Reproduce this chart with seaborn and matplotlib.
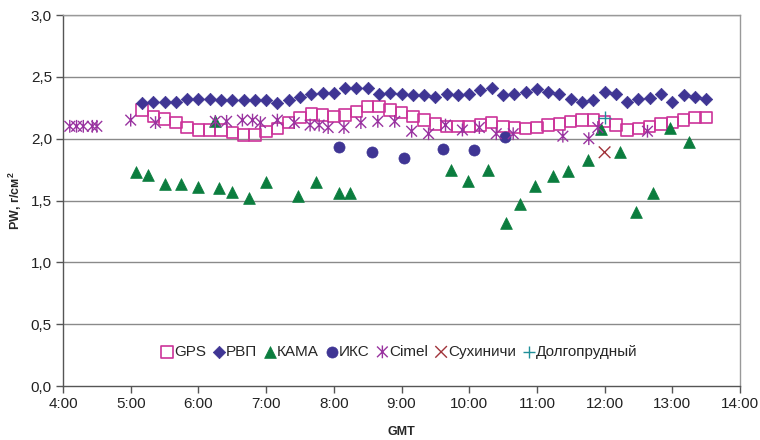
import numpy as np
import pandas as pd
import matplotlib
matplotlib.use("Agg")
import matplotlib.pyplot as plt
from matplotlib.path import Path
import seaborn as sns

# ---------------- data ----------------
gps_time = ["5:10", "5:20", "5:30", "5:40", "5:50", "6:00", "6:10", "6:20", "6:30", "6:40",
            "6:50", "7:00", "7:10", "7:20", "7:30", "7:40", "7:50", "8:00", "8:10", "8:20",
            "8:30", "8:40", "8:50", "9:00", "9:10", "9:20", "9:30", "9:40", "9:50", "10:00",
            "10:10", "10:20", "10:30", "10:40", "10:50", "11:00", "11:10", "11:20", "11:30", "11:40",
            "11:50", "12:00", "12:10", "12:20", "12:30", "12:40", "12:50", "13:00", "13:10", "13:20",
            "13:30"]
gps_pw = [2.23, 2.18, 2.16, 2.13, 2.09, 2.07, 2.07, 2.07, 2.05, 2.03,
          2.03, 2.06, 2.08, 2.13, 2.17, 2.20, 2.19, 2.18, 2.19, 2.22,
          2.26, 2.26, 2.23, 2.21, 2.18, 2.15, 2.12, 2.10, 2.10, 2.10,
          2.11, 2.13, 2.10, 2.09, 2.08, 2.09, 2.11, 2.12, 2.14, 2.15,
          2.15, 2.14, 2.11, 2.07, 2.08, 2.10, 2.12, 2.13, 2.15, 2.17,
          2.17]

rvp_time = gps_time
rvp_pw = [2.29, 2.30, 2.30, 2.30, 2.32, 2.32, 2.32, 2.31, 2.31, 2.31,
          2.31, 2.31, 2.29, 2.31, 2.34, 2.36, 2.37, 2.37, 2.41, 2.41,
          2.41, 2.36, 2.37, 2.36, 2.35, 2.35, 2.34, 2.36, 2.35, 2.36,
          2.39, 2.41, 2.35, 2.36, 2.38, 2.40, 2.38, 2.36, 2.32, 2.30,
          2.31, 2.38, 2.36, 2.30, 2.32, 2.33, 2.36, 2.30, 2.35, 2.34,
          2.32]

kama_time = ["5:05", "5:15", "5:30", "5:45", "6:00", "6:15", "6:18", "6:30", "6:45", "7:00",
             "7:28", "7:44", "8:05", "8:14", "9:44", "9:59", "10:17", "10:33", "10:45", "10:58",
             "11:14", "11:28", "11:45", "11:57", "12:14", "12:28", "12:43", "12:58", "13:15"]
kama_pw = [1.73, 1.71, 1.63, 1.63, 1.61, 2.14, 1.60, 1.57, 1.52, 1.65,
           1.54, 1.65, 1.56, 1.56, 1.75, 1.66, 1.75, 1.32, 1.47, 1.62,
           1.70, 1.74, 1.83, 2.08, 1.89, 1.41, 1.56, 2.09, 1.97]

iks_time = ["8:05", "8:34", "9:02", "9:37", "10:04", "10:32"]
iks_pw = [1.93, 1.89, 1.84, 1.92, 1.91, 2.01]

cimel_time = ["4:06", "4:12", "4:18", "4:26", "4:30", "5:00", "5:22", "6:15", "6:25", "6:39",
              "6:48", "6:55", "7:10", "7:25", "7:39", "7:47", "7:55", "8:09", "8:24", "8:39",
              "8:54", "9:09", "9:24", "9:39", "9:54", "10:09", "10:24", "10:39", "11:23", "11:46",
              "11:54", "12:38"]
cimel_pw = [2.10, 2.10, 2.10, 2.10, 2.10, 2.15, 2.13, 2.14, 2.14, 2.15,
            2.15, 2.13, 2.15, 2.13, 2.11, 2.11, 2.09, 2.09, 2.13, 2.14,
            2.14, 2.06, 2.04, 2.11, 2.07, 2.09, 2.04, 2.04, 2.02, 2.00,
            2.09, 2.06]

sukh_time = ["12:00"]
sukh_pw = [1.89]

dolg_time = ["12:00"]
dolg_pw = [2.17]

xtick_labels = ["4:00", "5:00", "6:00", "7:00", "8:00", "9:00", "10:00",
                "11:00", "12:00", "13:00", "14:00"]
ytick_labels = ["0,0", "0,5", "1,0", "1,5", "2,0", "2,5", "3,0"]


def to_hours(ts):
    out = []
    for t in ts:
        h, m = t.split(":")
        out.append(int(h) + int(m) / 60.0)
    return np.array(out)


# ---------------- style ----------------
sns.set_theme(style="white")
plt.rcParams["font.family"] = ["Liberation Sans", "DejaVu Sans"]

C_GPS = "#CC3399"
C_RVP = "#3F3594"
C_KAMA = "#0B7D3E"
C_IKS = "#3F3594"
C_CIMEL = "#9933A0"
C_SUKH = "#A0333A"
C_DOLG = "#1F8F99"

star_path = Path([(-1, -1), (1, 1), (-1, 1), (1, -1), (0, -1.2), (0, 1.2)],
                 [Path.MOVETO, Path.LINETO, Path.MOVETO, Path.LINETO, Path.MOVETO, Path.LINETO])
x_path = Path([(-1, -1), (1, 1), (-1, 1), (1, -1)],
              [Path.MOVETO, Path.LINETO, Path.MOVETO, Path.LINETO])
plus_path = Path([(-1, 0), (1, 0), (0, -1), (0, 1)],
                 [Path.MOVETO, Path.LINETO, Path.MOVETO, Path.LINETO])

fig = plt.figure(figsize=(7.6, 4.4), dpi=100)
ax = fig.add_axes([63 / 760, 54 / 440, 677 / 760, 371 / 440])

# gridlines
for yv in np.arange(0.5, 3.01, 0.5):
    ax.axhline(yv, color="#8a8a8a", lw=1.0, zorder=0)

sns.scatterplot(x=to_hours(gps_time), y=gps_pw, ax=ax, marker="s", s=68,
                color=C_GPS, facecolor="none", edgecolor=C_GPS, linewidth=1.2,
                label="GPS", zorder=3)
sns.scatterplot(x=to_hours(rvp_time), y=rvp_pw, ax=ax, marker="D", s=40,
                color=C_RVP, edgecolor=C_RVP, linewidth=0.5, label="РВП", zorder=4)
sns.scatterplot(x=to_hours(kama_time), y=kama_pw, ax=ax, marker="^", s=72,
                color=C_KAMA, edgecolor=C_KAMA, linewidth=0.5, label="КАМА", zorder=5)
sns.scatterplot(x=to_hours(iks_time), y=iks_pw, ax=ax, marker="o", s=64,
                color=C_IKS, edgecolor=C_IKS, linewidth=0.5, label="ИКС", zorder=6)
sns.scatterplot(x=to_hours(cimel_time), y=cimel_pw, ax=ax, marker=star_path, s=85,
                color=C_CIMEL, facecolor="none", edgecolor=C_CIMEL, linewidth=1.0,
                label="Cimel", zorder=7)
sns.scatterplot(x=to_hours(sukh_time), y=sukh_pw, ax=ax, marker=x_path, s=70,
                color=C_SUKH, facecolor="none", edgecolor=C_SUKH, linewidth=1.0,
                label="Сухиничи", zorder=8)
sns.scatterplot(x=to_hours(dolg_time), y=dolg_pw, ax=ax, marker=plus_path, s=80,
                color=C_DOLG, facecolor="none", edgecolor=C_DOLG, linewidth=1.0,
                label="Долгопрудный", zorder=9)

# axes
ax.set_xlim(4, 14)
ax.set_ylim(0, 3)
ax.set_xticks(np.arange(4, 15, 1))
ax.set_xticklabels(xtick_labels)
ax.set_yticks(np.arange(0, 3.01, 0.5))
ax.set_yticklabels(ytick_labels)
ax.tick_params(axis="both", which="major", direction="out", length=5, width=1,
               color="#555555", labelsize=11, labelcolor="#222222", pad=3,
               bottom=True, left=True)
for side in ["left", "bottom"]:
    ax.spines[side].set_color("#555555")
    ax.spines[side].set_linewidth(1.0)
for side in ["top", "right"]:
    ax.spines[side].set_visible(True)
    ax.spines[side].set_color("#999999")
    ax.spines[side].set_linewidth(1.0)

ax.set_xlabel("GMT", fontsize=9, fontweight="bold", labelpad=11)
ax.set_ylabel("PW, г/см$^\\mathregular{2}$", fontsize=9, fontweight="bold", labelpad=5)

leg = ax.legend(loc="center", bbox_to_anchor=(0.497, 0.092), ncol=7, frameon=False,
                fontsize=11, handletextpad=0.1, columnspacing=0.5, handlelength=0.7,
                borderaxespad=0)

fig.savefig("out.png", dpi=100)
